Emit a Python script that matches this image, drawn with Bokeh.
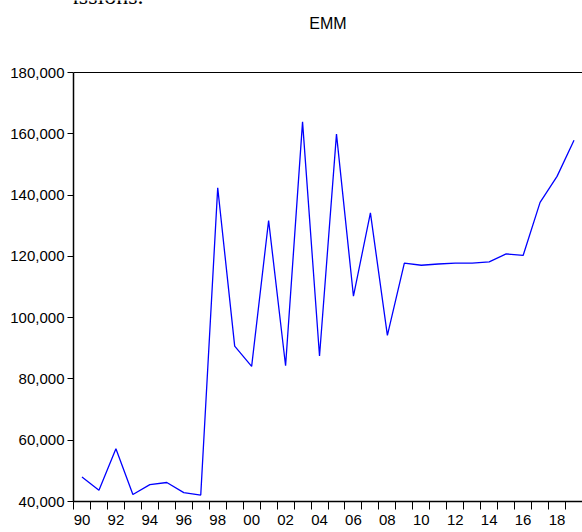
from bokeh.plotting import figure
from bokeh.models import FixedTicker, NumeralTickFormatter, Range1d, Label, Span
from bokeh.embed import file_html
from bokeh.resources import INLINE

# Annual EMM series, 1990-2019
years = list(range(1990, 2020))
emm = [48000, 43700, 57200, 42300, 45500, 46200, 42900, 42100,
       142400, 90700, 84100, 131700, 84300, 163900, 87500, 159900,
       107000, 134200, 94200, 117800, 117100, 117500, 117800, 117800,
       118200, 120800, 120300, 137600, 146100, 157900]

y_ticks = [40000, 60000, 80000, 100000, 120000, 140000, 160000, 180000]
x_label_years = list(range(1990, 2020, 2))
x_tick_labels = {y: f"{y % 100:02d}" for y in x_label_years}
year_bounds = [y - 0.5 for y in range(1990, 2021)]

FONT = "Liberation Sans Narrow, Arial Narrow, Liberation Sans, sans-serif"
W, H = 582, 532
LEFT, TOP, BOTTOM = 73, 72, 31
FRAME_W, FRAME_H = W - LEFT, H - BOTTOM

# The frame runs up to the top of the canvas so that the heading texts can
# live inside it; the box of the chart itself stops at 180,000.
Y_MIN, Y_MAX = y_ticks[0], y_ticks[-1]
X_MIN, X_MAX = year_bounds[0], year_bounds[-1]
Y_TOP = Y_MAX + (Y_MAX - Y_MIN) * TOP / (H - TOP - BOTTOM)

p = figure(width=W, height=H, output_backend="svg", toolbar_location=None,
           x_range=Range1d(X_MIN, X_MAX), y_range=Range1d(Y_MIN, Y_TOP),
           min_border_left=LEFT, min_border_right=0, min_border_top=0,
           min_border_bottom=BOTTOM)

p.xgrid.visible = False
p.ygrid.visible = False
p.outline_line_color = None
p.background_fill_color = "white"
p.border_fill_color = "white"

# top and right sides of the chart box
p.add_layout(Span(location=Y_MAX, dimension="width", line_color="black", line_width=1))
p.line([X_MAX, X_MAX], [Y_MAX, Y_MIN], line_color="black", line_width=1)

p.line(years, emm, line_color="#0000FF", line_width=1.3)

# Chart title, centred over the chart box
p.add_layout(Label(x=FRAME_W / 2, y=FRAME_H - 23, x_units="screen", y_units="screen",
                   text="EMM", text_font=FONT, text_font_size="16px",
                   text_color="black", text_align="center", text_baseline="alphabetic"))

# Tail of the preceding paragraph line
p.add_layout(Label(x=143 - LEFT, y=FRAME_H + 5, x_units="screen", y_units="screen",
                   text="92 emissions.", text_font="Liberation Serif",
                   text_font_size="24px", text_color="black",
                   text_baseline="alphabetic", text_align="right"))

# x axis: boundary ticks between years, labels on even years
xa = p.xaxis[0]
xa.ticker = FixedTicker(ticks=x_label_years, minor_ticks=year_bounds)
xa.major_label_overrides = x_tick_labels
xa.major_tick_line_color = None
xa.major_tick_in = 0
xa.major_tick_out = 8
xa.minor_tick_in = 0
xa.minor_tick_out = 8
xa.minor_tick_line_color = "black"
xa.axis_line_color = "black"
xa.axis_line_width = 1.5
xa.major_label_standoff = 5
xa.major_label_text_font = FONT
xa.major_label_text_font_size = "15px"
xa.major_label_text_color = "black"

# y axis, drawn only over the chart box
ya = p.yaxis[0]
ya.bounds = (Y_MIN, Y_MAX)
ya.ticker = FixedTicker(ticks=y_ticks, minor_ticks=[])
ya.formatter = NumeralTickFormatter(format="0,0")
ya.major_tick_in = 0
ya.major_tick_out = 6
ya.major_tick_line_color = "black"
ya.minor_tick_line_color = None
ya.axis_line_color = "black"
ya.axis_line_width = 1.5
ya.major_label_standoff = 3
ya.major_label_text_font = FONT
ya.major_label_text_font_size = "15px"
ya.major_label_text_color = "black"

open("out.html", "w").write(file_html(p, INLINE))
